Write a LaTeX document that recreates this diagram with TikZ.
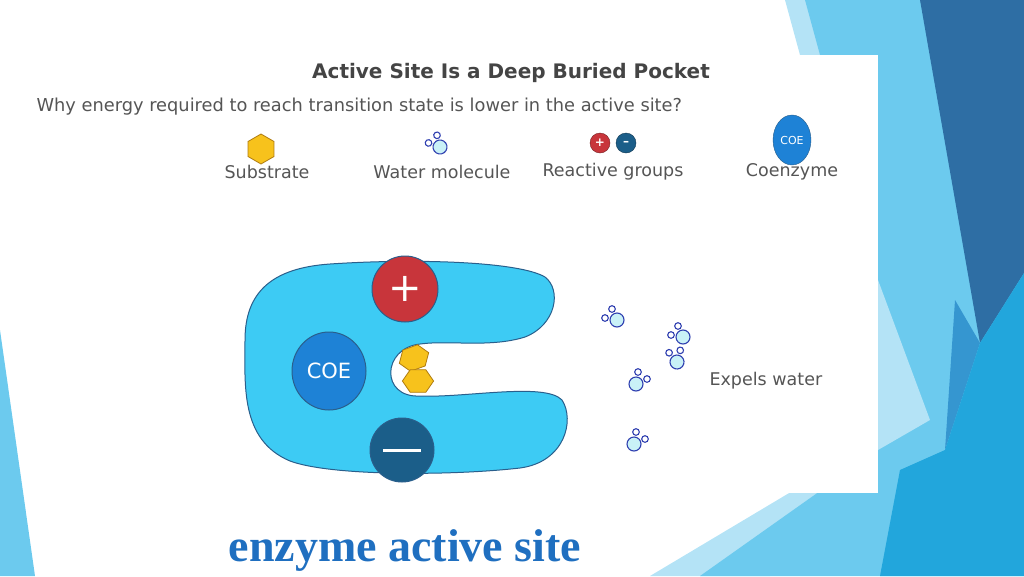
\documentclass[tikz,border=0pt]{standalone}
\usepackage{fontspec}
\setmainfont{DejaVu Sans}
\newfontfamily\titlefont{Liberation Serif}
\usetikzlibrary{shapes.geometric,calc}

\definecolor{enzcyan}{HTML}{3DCBF4}
\definecolor{enzline}{HTML}{2A5F8C}
\definecolor{plusred}{HTML}{C8353B}
\definecolor{minusblue}{HTML}{1B5E89}
\definecolor{coeblue}{HTML}{1E82D6}
\definecolor{subyellow}{HTML}{F7C21C}
\definecolor{subline}{HTML}{B07C10}
\definecolor{watline}{HTML}{2F3FB0}
\definecolor{watfill}{HTML}{C9F1F7}
\definecolor{txtgray}{HTML}{555555}
\definecolor{slidedark}{HTML}{2E6EA4}
\definecolor{slidemid}{HTML}{3596D0}
\definecolor{slidebright}{HTML}{22A6DC}
\definecolor{slidelight}{HTML}{6CCAEE}
\definecolor{slidepale}{HTML}{B4E3F6}
\definecolor{headblue}{HTML}{1F6FC0}

% one water molecule: big O, two small H
\newcommand{\watermol}[3]{%
  \begin{scope}[shift={(#1,#2)}, rotate=#3]
    \draw[watline, fill=watfill, line width=1.1pt] (0,0) circle (7);
    \draw[watline, fill=white, line width=1.1pt] (-12,-2) circle (3.3) (-5,-11) circle (3.3);
  \end{scope}}

\tikzset{
  legendtext/.style={text=txtgray, font=\fontsize{17.5}{19}\selectfont},
  subshape/.style={regular polygon, regular polygon sides=6, draw=subline, fill=subyellow, line width=0.8pt, inner sep=0},
}

\begin{document}
\begin{tikzpicture}[x=1pt, y=-1pt]
  \useasboundingbox (0,0) rectangle (1024,576);

  % slide background
  \fill[slidepale] (785,0) -- (820,0) -- (830,55) -- (878,440) -- (770,576) -- (650,576) -- (878,440) -- (800,55) -- cycle;
  \fill[slidelight] (805,0) -- (1024,0) -- (1024,576) -- (700,576) -- (878,450) -- (878,55) -- (820,55) -- cycle;
  \fill[slidepale] (878,280) -- (930,420) -- (878,450) -- cycle;
  \fill[slidedark] (920,0) -- (1024,0) -- (1024,273) -- (980,343) -- cycle;
  \fill[slidemid] (955,300) -- (980,343) -- (945,450) -- cycle;
  \fill[slidebright] (1024,273) -- (1024,576) -- (880,576) -- (900,470) -- (945,450) -- (980,343) -- cycle;

  % image panel
  \fill[white] (20,55) rectangle (878,493);
  \fill[slidelight] (0,330) -- (0,576) -- (35,576) -- cycle;

  % heading
  \node[text=txtgray!80!black, font=\bfseries\fontsize{20}{22}\selectfont] (head) at (511,73) {Active Site Is a Deep Buried Pocket};
  \node[text=txtgray, font=\fontsize{17.8}{20}\selectfont, anchor=west] (quest) at (33,107) {Why energy required to reach transition state is lower in the active site?};

  % legend
  \node[subshape, minimum size=30pt, rotate=30] (lsub) at (261,149) {};
  \node[legendtext] (lsubtxt) at (267,172) {Substrate};
  \watermol{440}{147}{-10}
  \node[legendtext] (lwattxt) at (442,172) {Water molecule};
  \node[circle, fill=plusred, draw=plusred!60!black, minimum size=20pt, text=white, font=\bfseries\large, inner sep=0] (lplus) at (600,143) {+};
  \node[circle, fill=minusblue, draw=minusblue!60!black, minimum size=20pt, text=white, font=\bfseries\large, inner sep=0] (lminus) at (626,143) {--};
  \node[legendtext] (lreacttxt) at (613,172) {Reactive groups};
  \node[ellipse, fill=coeblue, draw=enzline, minimum width=38pt, minimum height=50pt, inner sep=0, text=white, font=\fontsize{11}{12}\selectfont] (lcoe) at (792,140) {COE};
  \node[legendtext] (lcoetxt) at (792,172) {Coenzyme};

  % enzyme body with pocket
  \draw[enzline, fill=enzcyan, line width=1pt]
    (330,264) .. controls (420,258) and (520,262) .. (545,277)
    .. controls (562,290) and (556,325) .. (525,337)
    .. controls (490,348) and (450,340) .. (420,344)
    .. controls (382,348) and (380,398) .. (420,396)
    .. controls (465,398) and (545,382) .. (562,400)
    .. controls (575,420) and (565,462) .. (520,468)
    .. controls (450,476) and (330,476) .. (290,461)
    .. controls (240,440) and (245,385) .. (245,340)
    .. controls (245,292) and (272,268) .. (330,264);

  \node[circle, fill=plusred, draw=enzline, line width=1pt, minimum size=66pt, inner sep=0, text=white, font=\fontsize{40}{40}\selectfont] (plus) at (405,289) {+};
  \node[circle, fill=minusblue, draw=enzline, line width=1pt, minimum size=64pt, inner sep=0] (minus) at (402,450) {};
  \draw[white, line width=3pt] ($(minus.center)+(-19,0)$) -- ($(minus.center)+(19,0)$);
  \node[ellipse, fill=coeblue, draw=enzline, line width=1pt, minimum width=74pt, minimum height=78pt, inner sep=0, text=white, font=\fontsize{21}{22}\selectfont] (coe) at (329,371) {COE};

  % substrate in the pocket
  \node[subshape, minimum size=26pt, rotate=20, xscale=1.2] (suba) at (414,358) {};
  \node[subshape, minimum size=26pt, xscale=1.2] (subb) at (418,381) {};

  % expelled water
  \watermol{617}{320}{0}
  \watermol{683}{337}{0}
  \watermol{677}{362}{-40}
  \watermol{636}{384}{-90}
  \watermol{634}{444}{-90}
  \node[legendtext, anchor=west] (expel) at (706,381) {Expels water};

  % slide title
  \node[text=headblue, font=\titlefont\bfseries\fontsize{46}{50}\selectfont] (stitle) at (405,550) {enzyme active site};
\end{tikzpicture}
\end{document}
